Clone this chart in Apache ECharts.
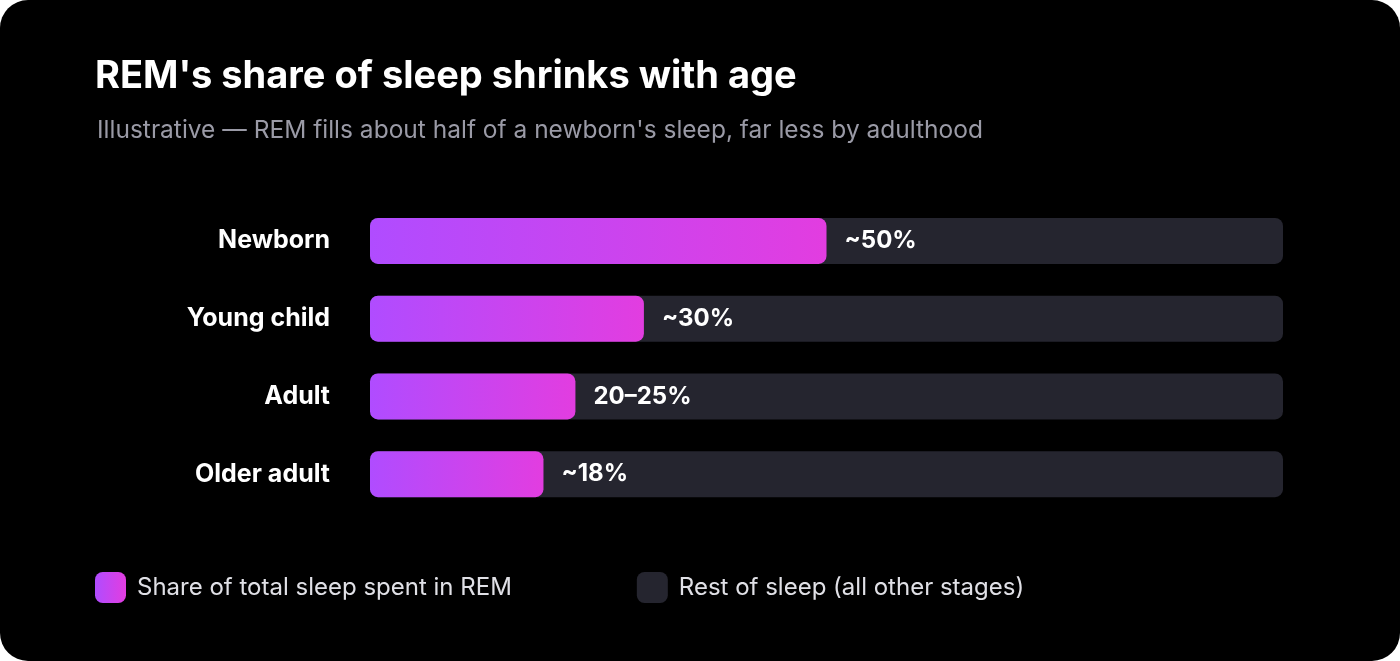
<!DOCTYPE html>
<html><head><meta charset="utf-8">
<script src="https://cdn.jsdelivr.net/npm/echarts@6/dist/echarts.min.js"></script>
<style>html,body{margin:0;padding:0;background:#fff;}#c{width:1400px;height:661px;background:#000;border-radius:28px;overflow:hidden;}</style>
</head><body><div id="c"></div>
<script>
const categories = ['Newborn','Young child','Adult','Older adult'];
const remShare = [50, 30, 22.5, 19];
const valueLabels = ['~50%','~30%','20–25%','~18%'];
const total = [100, 100, 100, 100];
const F = 'Inter, "Noto Sans", sans-serif';
const grad = new echarts.graphic.LinearGradient(0,0,1,0,[{offset:0,color:'#b04cff'},{offset:1,color:'#e23de0'}]);
const chart = echarts.init(document.getElementById('c'), null, {renderer:'canvas'});
chart.setOption({
  backgroundColor:'transparent',
  textStyle:{fontFamily:F},
  title:[{text:"REM's share of sleep shrinks with age",left:90,top:53,textStyle:{color:'#fff',fontSize:38,fontWeight:'bold',fontFamily:F}},
         {text:"Illustrative — REM fills about half of a newborn's sleep, far less by adulthood",left:92,top:113,textStyle:{color:'#9a9aa6',fontSize:24.5,fontWeight:'normal',fontFamily:F}}],
  legend:{left:90,top:567,itemWidth:31,itemHeight:31,itemGap:125,icon:'roundRect',
    textStyle:{color:'#e0e0e6',fontSize:24,fontFamily:F,padding:[0,0,0,6]},
    data:['Share of total sleep spent in REM','Rest of sleep (all other stages)']},
  grid:{left:370,right:117,top:202,bottom:148},
  xAxis:{type:'value',min:0,max:100,show:false},
  yAxis:{type:'category',data:categories,inverse:true,axisLine:{show:false},axisTick:{show:false},
    axisLabel:{color:'#fff',fontSize:25,fontWeight:'bold',margin:40,fontFamily:F,padding:[0,0,4,0]}},
  series:[
    {name:'Rest of sleep (all other stages)',type:'bar',data:total,barWidth:46,barGap:'-100%',silent:true,
     itemStyle:{color:'#25252f',borderRadius:8},z:1},
    {name:'Share of total sleep spent in REM',type:'bar',data:remShare,barWidth:46,
     itemStyle:{color:grad,borderRadius:8},z:2,
     label:{show:true,position:'right',distance:18,color:'#fff',fontSize:24,fontWeight:'bold',fontFamily:F,
       formatter:p=>valueLabels[p.dataIndex]}}
  ]
});
</script></body></html>
